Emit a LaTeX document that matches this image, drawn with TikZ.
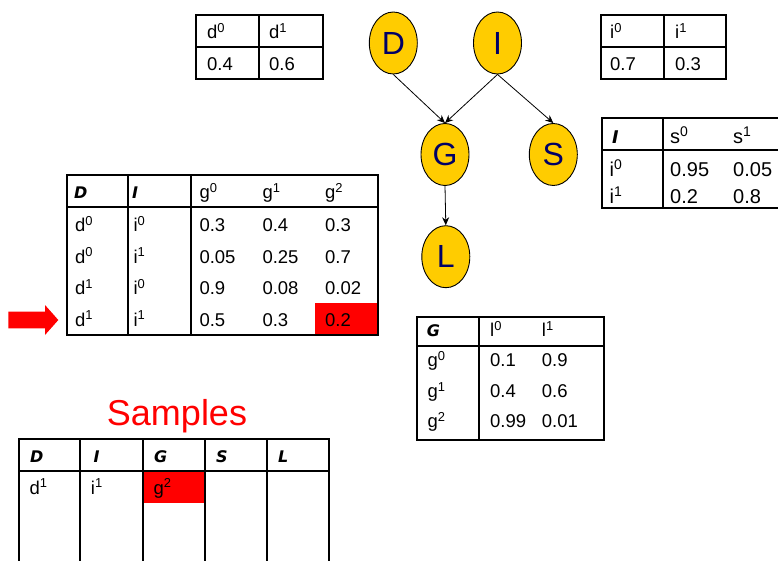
\documentclass[tikz,border=0pt]{standalone}
\usepackage{fontspec}
\setmainfont{Liberation Sans}
\newfontfamily\hdrfam{DejaVu Sans Bold Oblique}
\usetikzlibrary{shapes.geometric,arrows.meta}
\definecolor{gold}{HTML}{FFCC00}
\definecolor{navy}{HTML}{000066}
\definecolor{hot}{HTML}{FF0000}
\newcommand\sx[1]{\textsuperscript{#1}}

\begin{document}
\begin{tikzpicture}[x=1pt,y=-1pt,
  rule/.style={line width=2pt,line join=miter},
  val/.style={anchor=base west,inner sep=0pt,font=\fontsize{18.5}{20}\selectfont},
  bigval/.style={val,font=\fontsize{20}{22}\selectfont},
  hdr/.style={anchor=base west,inner sep=0pt,font=\hdrfam\fontsize{16}{18}\selectfont},
  bighdr/.style={hdr,font=\hdrfam\fontsize{17.5}{19}\selectfont},
  var/.style={ellipse,draw=black,line width=0.9pt,fill=gold,minimum width=48pt,
    minimum height=62pt,inner sep=0pt,text=navy,font=\fontsize{32}{34}\selectfont},
  edge/.style={-{Stealth[length=8pt,width=7pt]},line width=0.8pt}]
\useasboundingbox (0,0) rectangle (778,561);

% ---- Bayesian network ----
\node[var] (D) at (393.3,43) {D};
\node[var] (I) at (497.5,43) {I};
\node[var] (G) at (445,154.5) {G};
\node[var] (S) at (553.3,154.5) {S};
\node[var] (L) at (445.8,256.7) {L};
\draw[edge] (D.south) -- (G.north);
\draw[edge] (I.south) -- (G.north);
\draw[edge] (I.south) -- (S.north);
\draw[edge] (G.south) -- (L.north);

% ---- P(D) ----
\draw[rule] (196,15) rectangle (323,79);
\draw[rule] (196,47.3) -- (323,47.3);
\draw[rule] (259,15) -- (259,79);
\node[val] (pdh0) at (207,38.3) {d\sx{0}};
\node[val] (pdh1) at (269,38.3) {d\sx{1}};
\node[val] (pdv0) at (207,70.7) {0.4};
\node[val] (pdv1) at (269,70.7) {0.6};

% ---- P(I) ----
\draw[rule] (601,15) rectangle (726,79);
\draw[rule] (601,47.3) -- (726,47.3);
\draw[rule] (664,15) -- (664,79);
\node[val] (pih0) at (610,38.3) {i\sx{0}};
\node[val] (pih1) at (675,38.3) {i\sx{1}};
\node[val] (piv0) at (610,70.7) {0.7};
\node[val] (piv1) at (675,70.7) {0.3};

% ---- P(S | I) ----
\draw[rule] (778,118.3) -- (601.5,118.3) -- (601.5,208) -- (778,208);
\draw[rule] (601.5,150) -- (778,150);
\draw[rule] (662.5,118.3) -- (662.5,208);
\node[bighdr] (psh) at (612,144) {I};
\node[bigval] (pshs0) at (670,144) {s\sx{0}};
\node[bigval] (pshs1) at (733,144) {s\sx{1}};
\node[bigval] (psa) at (609.5,177) {i\sx{0}};
\node[bigval] (psa0) at (670,177) {0.95};
\node[bigval] (psa1) at (733,177) {0.05};
\node[bigval] (psb) at (609.5,204) {i\sx{1}};
\node[bigval] (psb0) at (670,204) {0.2};
\node[bigval] (psb1) at (733,204) {0.8};

% ---- P(G | D, I) ----
\fill[hot] (315,302.7) rectangle (377.7,335);
\draw[rule] (66.7,175) rectangle (377.7,335);
\draw[rule] (66.7,206.7) -- (377.7,206.7);
\draw[rule] (127.7,175) -- (127.7,335);
\draw[rule] (191,175) -- (191,335);
\node[hdr] (pgD) at (74,198.3) {D};
\node[hdr] (pgI) at (132,198.3) {I};
\node[val] (pgg0) at (199.3,198.3) {g\sx{0}};
\node[val] (pgg1) at (262.3,198.3) {g\sx{1}};
\node[val] (pgg2) at (325,198.3) {g\sx{2}};
\foreach \r/\yb/\dd/\ii/\a/\b/\c in {
    1/231.7/0/0/0.3/0.4/0.3,
    2/263/0/1/0.05/0.25/0.7,
    3/294.5/1/0/0.9/0.08/0.02,
    4/326/1/1/0.5/0.3/0.2}{
  \node[val] (pgd\r) at (75,\yb) {d\sx{\dd}};
  \node[val] (pgi\r) at (133.3,\yb) {i\sx{\ii}};
  \node[val] (pga\r) at (199.3,\yb) {\a};
  \node[val] (pgb\r) at (262.3,\yb) {\b};
  \node[val] (pgc\r) at (325,\yb) {\c};
}
% pointer to the current row
\fill[hot] (8.3,311.7) -- (45,311.7) -- (45,305) -- (58.3,320) -- (45,335)
  -- (45,328.3) -- (8.3,328.3) -- cycle;

% ---- P(L | G) ----
\draw[rule] (416.7,317.3) rectangle (604,440);
\draw[rule] (416.7,345.7) -- (604,345.7);
\draw[rule] (479,317.3) -- (479,440);
\node[hdr] (plG) at (426.7,336.7) {G};
\node[val] (pll0) at (490,336.7) {l\sx{0}};
\node[val] (pll1) at (541.7,336.7) {l\sx{1}};
\foreach \r/\yb/\g/\a/\b in {1/366.7/0/0.1/0.9, 2/397.7/1/0.4/0.6, 3/427.7/2/0.99/0.01}{
  \node[val] (plg\r) at (427.3,\yb) {g\sx{\g}};
  \node[val] (pla\r) at (490,\yb) {\a};
  \node[val] (plb\r) at (541.7,\yb) {\b};
}

% ---- Samples ----
\node[anchor=base,inner sep=0pt,text=hot,font=\fontsize{36}{40}\selectfont] (title) at (177,425) {Samples};
\fill[hot] (143.3,470.7) rectangle (205,503.3);
\draw[rule] (19,561) -- (19,439.3) -- (329,439.3) -- (329,561);
\draw[rule] (19,470.7) -- (329,470.7);
\foreach \xv in {80,143.3,205,266.7}{
  \draw[rule] (\xv,439.3) -- (\xv,561);
}
\node[hdr] (smD) at (30,462.7) {D};
\node[hdr] (smI) at (93.3,462.7) {I};
\node[hdr] (smG) at (154,462.7) {G};
\node[hdr] (smS) at (216,462.7) {S};
\node[hdr] (smL) at (278,462.7) {L};
\node[val] (smd) at (29.3,494) {d\sx{1}};
\node[val] (smi) at (90.7,494) {i\sx{1}};
\node[val] (smg) at (153.3,494) {g\sx{2}};
\end{tikzpicture}
\end{document}
